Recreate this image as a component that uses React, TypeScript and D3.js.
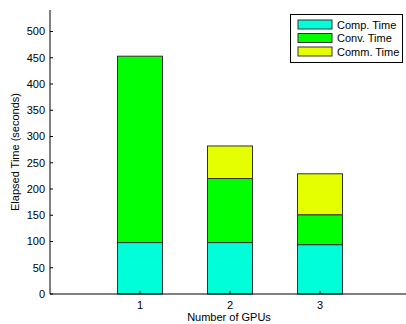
import React from 'react';
import * as d3 from 'd3';

const gpus = ['1', '2', '3'];
const compTime = [98, 98, 94];
const convTime = [355, 122, 57];
const commTime = [0, 62, 78];
const seriesNames = ['Comp. Time', 'Conv. Time', 'Comm. Time'];
const seriesColors = ['#00ffd9', '#00ff00', '#e6ff00'];
const yTicks = [0, 50, 100, 150, 200, 250, 300, 350, 400, 450, 500];

const W = 406;
const H = 324;
const left = 50;
const top = 10;
const bottom = 294;

export default function App() {
  const x = d3.scaleLinear().domain([0, 4]).range([left, 410]);
  const y = d3.scaleLinear().domain([0, 541]).range([bottom, top]);

  const table = gpus.map((g, i) => ({ g, comp: compTime[i], conv: convTime[i], comm: commTime[i] }));
  const stacked = d3.stack<any>().keys(['comp', 'conv', 'comm'])(table);
  const barW = (x(1) - x(0)) * 0.5;
  const font = 'Liberation Sans, Arial, sans-serif';

  return (
    <svg width={W} height={H} style={{ position: 'absolute', left: 0, top: 0 }} fontFamily={font}>
      <rect x={0} y={0} width={W} height={H} fill="#fff" />
      {stacked.map((layer, si) => (
        <g key={si}>
          {layer.map((d, i) =>
            d[1] - d[0] > 0 ? (
              <rect
                key={i}
                x={x(i + 1) - barW / 2}
                y={y(d[1])}
                width={barW}
                height={y(d[0]) - y(d[1])}
                fill={seriesColors[si]}
                stroke="#333"
                strokeWidth={1}
              />
            ) : null
          )}
        </g>
      ))}
      {/* axes */}
      <line x1={left} x2={left} y1={top} y2={bottom} stroke="#000" />
      <line x1={left} x2={W} y1={bottom} y2={bottom} stroke="#000" />
      {yTicks.map(t => (
        <g key={t}>
          <line x1={left} x2={left + 3} y1={y(t)} y2={y(t)} stroke="#000" />
          <text x={left - 5} y={y(t)} dy="0.35em" textAnchor="end" fontSize={11}>
            {t}
          </text>
        </g>
      ))}
      {gpus.map((g, i) => (
        <g key={g}>
          <line x1={x(i + 1)} x2={x(i + 1)} y1={bottom} y2={bottom - 3} stroke="#000" />
          <text x={x(i + 1)} y={bottom + 15} textAnchor="middle" fontSize={11}>
            {g}
          </text>
        </g>
      ))}
      <text x={229} y={321} textAnchor="middle" fontSize={11}>
        Number of GPUs
      </text>
      <text transform={`translate(19,${(top + bottom) / 2}) rotate(-90)`} textAnchor="middle" fontSize={11}>
        Elapsed Time (seconds)
      </text>
      {/* legend */}
      <rect x={290.5} y={14.5} width={112} height={48} fill="#fff" stroke="#000" />
      {seriesNames.map((n, i) => (
        <g key={n}>
          <rect x={298} y={20 + i * 13.5} width={34} height={9} fill={seriesColors[i]} stroke="#333" />
          <text x={337} y={25 + i * 13.5} dy="0.35em" fontSize={11}>
            {n}
          </text>
        </g>
      ))}
    </svg>
  );
}
